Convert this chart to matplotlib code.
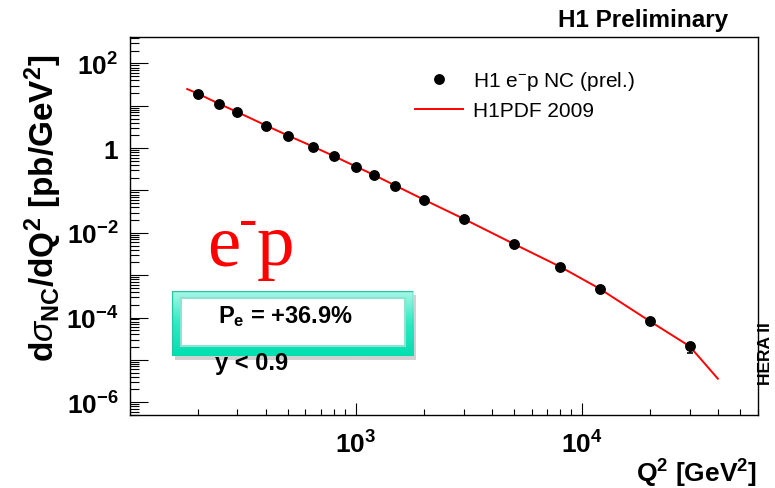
import numpy as np
import matplotlib
matplotlib.use("Agg")
import matplotlib.pyplot as plt
from matplotlib.ticker import FixedLocator, LogLocator, FuncFormatter, NullFormatter
from matplotlib.patches import Rectangle

plt.rcParams['font.family'] = ['Liberation Sans', 'DejaVu Sans']
plt.rcParams['mathtext.fontset'] = 'custom'
plt.rcParams['mathtext.rm'] = 'Liberation Sans'
plt.rcParams['mathtext.bf'] = 'Liberation Sans:bold'
plt.rcParams['mathtext.it'] = 'Liberation Sans:italic'

# H1 e-p NC data points
q2_data = [200, 250, 300, 400, 500, 650, 800, 1000, 1200, 1500,
           2000, 3000, 5000, 8000, 12000, 20000, 30000]
xs_data = [18.9, 10.8, 7.0, 3.39, 1.97, 1.08, 0.644, 0.366, 0.234, 0.129,
           0.0601, 0.0214, 0.00543, 0.00158, 4.8e-4, 8.1e-5, 2.18e-5]
err_lo = [0, 0, 0, 0, 0, 0, 0, 0, 0, 0,
          0, 0, 0, 0, 0, 1.5e-6, 7.5e-6]
err_hi = [0, 0, 0, 0, 0, 0, 0, 0, 0, 0,
          0, 0, 0, 0, 0, 1.5e-6, 3.0e-6]

# H1PDF 2009 prediction
q2_model = [180, 200, 250, 300, 400, 500, 650, 800, 1000, 1200, 1500,
            2000, 3000, 5000, 8000, 12000, 20000, 30000, 40000]
xs_model = [24.8, 19.5, 11.0, 7.1, 3.45, 2.0, 1.08, 0.65, 0.37, 0.235, 0.13,
            0.061, 0.0215, 0.0055, 0.0016, 4.8e-4, 8.2e-5, 2.1e-5, 3.6e-6]

y_decades = [-6, -5, -4, -3, -2, -1, 0, 1, 2]
x_decades = [3, 4]

W, H = 775, 489
fig = plt.figure(figsize=(W / 100, H / 100), dpi=100)
ax = fig.add_axes([129.5 / W, 1 - 416 / H, (757.7 - 129.5) / W, (416 - 38) / H])

line, = ax.plot(q2_model, xs_model, color='red', lw=1.4, zorder=3)
ax.errorbar(q2_data, xs_data, yerr=[err_lo, err_hi], fmt='none', ecolor='black',
            elinewidth=1.2, capsize=2, capthick=1.2, zorder=4)
dots, = ax.plot(q2_data, xs_data, 'o', color='black', ms=6.8, zorder=5)

ax.set_xscale('log')
ax.set_yscale('log')
ax.set_xlim(100, 60000)
ax.set_ylim(5e-7, 420)

ax.xaxis.set_major_locator(FixedLocator([10.0 ** k for k in x_decades]))
ax.xaxis.set_minor_locator(LogLocator(base=10, subs=np.arange(2, 10), numticks=30))
ax.yaxis.set_major_locator(FixedLocator([10.0 ** k for k in y_decades]))
ax.yaxis.set_minor_locator(LogLocator(base=10, subs=np.arange(2, 10), numticks=30))


def ylab(v, pos):
    k = int(round(np.log10(v)))
    if k % 2:
        return ''
    if k == 0:
        return r'$\mathbf{1}$'
    return r'$\mathbf{10^{%d}}$' % k


ax.yaxis.set_major_formatter(FuncFormatter(ylab))
ax.yaxis.set_minor_formatter(NullFormatter())
ax.xaxis.set_major_formatter(FuncFormatter(lambda v, p: r'$\mathbf{10^{%d}}$' % round(np.log10(v))))
ax.xaxis.set_minor_formatter(NullFormatter())

ax.tick_params(axis='both', which='both', direction='in', width=0.8, labelsize=19)
ax.tick_params(axis='y', which='major', length=13, pad=8)
ax.tick_params(axis='y', which='minor', length=6.5)
ax.tick_params(axis='x', which='major', length=8.6, pad=11)
ax.tick_params(axis='x', which='minor', length=4.3)
for s in ax.spines.values():
    s.set_linewidth(1.0)

leg = ax.legend([dots, line], [r'H1 e$^{\mathregular{-}}$p NC (prel.)', 'H1PDF 2009'],
                loc='upper left', frameon=False,
                bbox_to_anchor=(415 / W, 1 - 70 / H), bbox_transform=fig.transFigure,
                borderpad=0, borderaxespad=0, fontsize=15, handlelength=2.3,
                handletextpad=0.5, labelspacing=0.45)

# axis titles
fig.text(43 / W, 1 - 208 / H,
         r'$\mathbf{d}\sigma_{\mathbf{NC}}\mathbf{/dQ^{2}\ [pb/GeV^{2}]}$',
         rotation=90, ha='center', va='center', fontsize=24)
fig.text(757 / W, 1 - 474 / H, r'$\mathbf{Q^{2}\ [GeV^{2}]}$',
         ha='right', va='center', fontsize=19)
fig.text(728 / W, 1 - 26.7 / H, 'H1 Preliminary', ha='right', va='baseline',
         fontsize=17.5, fontweight='bold')
fig.text(765 / W, 1 - 354 / H, 'HERA II', rotation=90, ha='center', va='center',
         fontsize=12.5, fontweight='bold')

# big red e-p, built from pieces like the original
serif = ['Liberation Serif', 'DejaVu Serif']
fig.text(207 / W, 1 - 265 / H, 'e', color='red', fontsize=54, family=serif,
         ha='left', va='baseline')
fig.text(239 / W, 1 - 236 / H, '-', color='red', fontsize=40, family=serif,
         ha='left', va='baseline')
fig.text(257 / W, 1 - 265 / H, 'p', color='red', fontsize=54, family=serif,
         ha='left', va='baseline')

# text partly hidden under the box
fig.text(215 / W, 1 - 370 / H, 'y < 0.9', ha='left', va='baseline',
         fontsize=17, fontweight='bold', zorder=1)

# polarisation box
bx0, bx1, by0, by1 = 172, 413, 291.7, 356.7
shadow = fig.add_axes([(bx0 + 3) / W, 1 - (by1 + 4) / H, (bx1 - bx0) / W, (by1 - by0) / H])
shadow.axis('off')
shadow.add_patch(Rectangle((0, 0), 1, 1, transform=shadow.transAxes,
                           facecolor='#9a9a9a', alpha=0.45, edgecolor='none'))
box = fig.add_axes([bx0 / W, 1 - by1 / H, (bx1 - bx0) / W, (by1 - by0) / H])
box.axis('off')
grad = np.linspace(0, 1, 64)[:, None]
teal = matplotlib.colors.LinearSegmentedColormap.from_list('teal', ['#a6f8e6', '#2ee9c2', '#00e0b0'])
box.imshow(grad, cmap=teal, aspect='auto', extent=(0, 1, 0, 1), origin='upper')
box.set_xlim(0, 1)
box.set_ylim(0, 1)
box.add_patch(Rectangle((0, 0), 1, 1, fill=False, edgecolor='#20c9a4', lw=1.0))
ix = (180.7 - bx0) / (bx1 - bx0)
iw = (405 - 180.7) / (bx1 - bx0)
iy = (by1 - 347) / (by1 - by0)
ih = (347 - 299) / (by1 - by0)
box.add_patch(Rectangle((ix, iy), iw, ih, facecolor='white', edgecolor='#8fe3d2', lw=1.5))
box.text((285.8 - bx0) / (bx1 - bx0), (by1 - 317) / (by1 - by0),
         r'$\mathbf{P_{e}}$' + ' = +36.9%', ha='center', va='center',
         fontsize=17, fontweight='bold')

fig.savefig('out.png', dpi=100)
